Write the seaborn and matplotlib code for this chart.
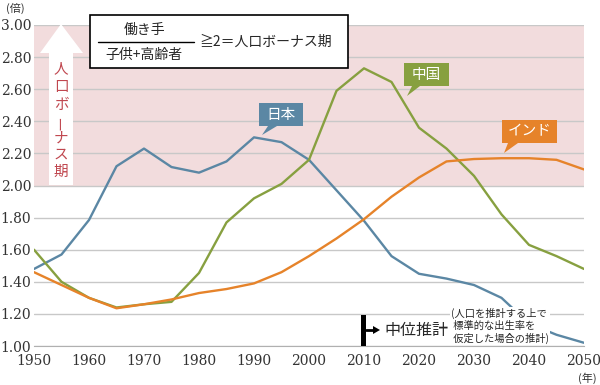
import numpy as np
import pandas as pd
import matplotlib
matplotlib.use('Agg')
import matplotlib.pyplot as plt
import seaborn as sns
from matplotlib.patches import Rectangle, Polygon
from matplotlib.lines import Line2D

# data (ratio of working-age to dependents)
years = list(range(1950, 2051, 5))
japan = [1.48, 1.57, 1.785, 2.12, 2.23, 2.115, 2.08, 2.15, 2.30, 2.27, 2.16,
         1.97, 1.78, 1.56, 1.45, 1.42, 1.38, 1.30, 1.14, 1.07, 1.02]
china = [1.60, 1.40, 1.30, 1.24, 1.26, 1.275, 1.455, 1.77, 1.92, 2.01, 2.16,
         2.59, 2.73, 2.645, 2.36, 2.23, 2.06, 1.82, 1.63, 1.56, 1.48]
india = [1.46, 1.38, 1.30, 1.235, 1.26, 1.29, 1.33, 1.355, 1.39, 1.46, 1.56,
         1.67, 1.79, 1.93, 2.05, 2.15, 2.165, 2.17, 2.17, 2.16, 2.10]
countries = ['日本', '中国', 'インド']
y_ticks = [1.00, 1.20, 1.40, 1.60, 1.80, 2.00, 2.20, 2.40, 2.60, 2.80, 3.00]
x_ticks = list(range(1950, 2051, 10))

colors = {'日本': '#5b87a4', '中国': '#87a040', 'インド': '#e6832a'}
pink = '#f2dcdd'
red_text = '#c0474f'

df = pd.DataFrame({
    'year': years * 3,
    'value': japan + china + india,
    'country': ['日本'] * len(years) + ['中国'] * len(years) + ['インド'] * len(years),
})

sns.set_style('white')
plt.rcParams['font.family'] = ['DejaVu Serif', 'Noto Sans CJK JP']
JP = ['Noto Sans CJK JP', 'DejaVu Sans']

W, H = 600, 385
fig = plt.figure(figsize=(W / 100, H / 100), dpi=100)
ax = fig.add_axes([34 / W, 1 - 346 / H, 550 / W, 321 / H])


def P(x, y):
    # pixel position -> figure fraction
    return (x / W, 1 - y / H)


ax.axhspan(2.0, 3.0, color=pink, lw=0, zorder=0)
sns.lineplot(data=df, x='year', y='value', hue='country', palette=colors,
             hue_order=countries, linewidth=1.7, legend=False, ax=ax, zorder=3)

ax.set_xlim(1950, 2050)
ax.set_ylim(1.0, 3.0)
ax.set_yticks(y_ticks)
ax.set_yticklabels([f'{v:.2f}' for v in y_ticks])
ax.set_xticks(x_ticks)
ax.set_xticklabels([str(v) for v in x_ticks])
ax.set_xlabel('')
ax.set_ylabel('')
ax.yaxis.grid(True, color='#c8c8c8', lw=1.0)
ax.set_axisbelow(True)
for s in ['top', 'right', 'left']:
    ax.spines[s].set_visible(False)
ax.spines['bottom'].set_color('#b0b0b0')
ax.tick_params(axis='y', length=0, pad=2, labelsize=10, labelcolor='#333333')
ax.tick_params(axis='x', direction='inout', length=6, color='#b0b0b0',
               pad=3, labelsize=10, labelcolor='#333333')
for lab in ax.get_xticklabels() + ax.get_yticklabels():
    lab.set_fontfamily('DejaVu Serif')

# units
fig.text(*P(6, 8), '(倍)', fontsize=8, family=JP, va='center', ha='left', color='#333333')
fig.text(*P(587, 378), '(年)', fontsize=8, family=JP, va='center', ha='center', color='#333333')

# white arrow with vertical text
arrow = Polygon([P(49, 185), P(49, 53), P(40, 53), P(61, 24), P(83, 53),
                 P(73, 53), P(73, 185)], closed=True, transform=fig.transFigure,
                facecolor='white', edgecolor='none', zorder=2)
fig.add_artist(arrow)
for ch, yy in zip('人口ボーナス期', [69, 87, 105, 123, 139, 155, 172]):
    fig.text(*P(61, yy), ch, fontsize=10.5, family=JP, color=red_text,
             ha='center', va='center', rotation=90 if ch == 'ー' else 0)

# formula box
fig.add_artist(Rectangle(P(90, 68), 258 / W, 53 / H, transform=fig.transFigure,
                         facecolor='white', edgecolor='black', lw=1.2))
fig.text(*P(144, 30), '働き手', fontsize=10, family=JP, ha='center', va='center')
fig.add_artist(Line2D([98 / W, 194 / W], [1 - 42 / H] * 2, transform=fig.transFigure,
                      color='black', lw=1.0))
fig.text(*P(144, 55), '子供+高齢者', fontsize=10, family=JP, ha='center', va='center')
fig.text(*P(199, 42), '≧2＝人口ボーナス期', fontsize=10, family=JP, ha='left', va='center')

# callout labels
callouts = [
    ('日本', (259, 103, 303, 126), [(268, 126), (277, 126), (262, 135)]),
    ('中国', (404, 63, 449, 86), [(412, 86), (420, 86), (407, 96)]),
    ('インド', (502, 120, 557, 143), [(508, 143), (518, 143), (504, 153)]),
]
for name, (x0, y0, x1, y1), tri in callouts:
    c = colors[name]
    fig.add_artist(Rectangle(P(x0, y1), (x1 - x0) / W, (y1 - y0) / H,
                             transform=fig.transFigure, facecolor=c, edgecolor='none', zorder=4))
    fig.add_artist(Polygon([P(*t) for t in tri], closed=True, transform=fig.transFigure,
                           facecolor=c, edgecolor='none', zorder=4))
    fig.text(*P((x0 + x1) / 2, (y0 + y1) / 2), name, fontsize=10.5, family=JP,
             color='white', ha='center', va='center', zorder=5)

# projection marker
fig.add_artist(Rectangle(P(361, 346), 5 / W, 31 / H, transform=fig.transFigure,
                         facecolor='black', edgecolor='none', zorder=5))
fig.add_artist(Line2D([366 / W, 374 / W], [1 - 330 / H] * 2, transform=fig.transFigure,
                      color='black', lw=2.0, zorder=5))
fig.add_artist(Polygon([P(373, 326), P(380, 330), P(373, 334)], closed=True,
                       transform=fig.transFigure, facecolor='black', edgecolor='none', zorder=5))
fig.text(*P(384, 330), '中位推計', fontsize=11.5, family=JP, ha='left', va='center', zorder=5)
fig.text(*P(451, 326), '(人口を推計する上で\n 標準的な出生率を\n 仮定した場合の推計)',
         fontsize=7.4, family=JP, ha='left', va='center', linespacing=1.2, zorder=5,
         bbox=dict(facecolor='white', edgecolor='none', pad=1.0))

fig.savefig('out.png', dpi=100)
